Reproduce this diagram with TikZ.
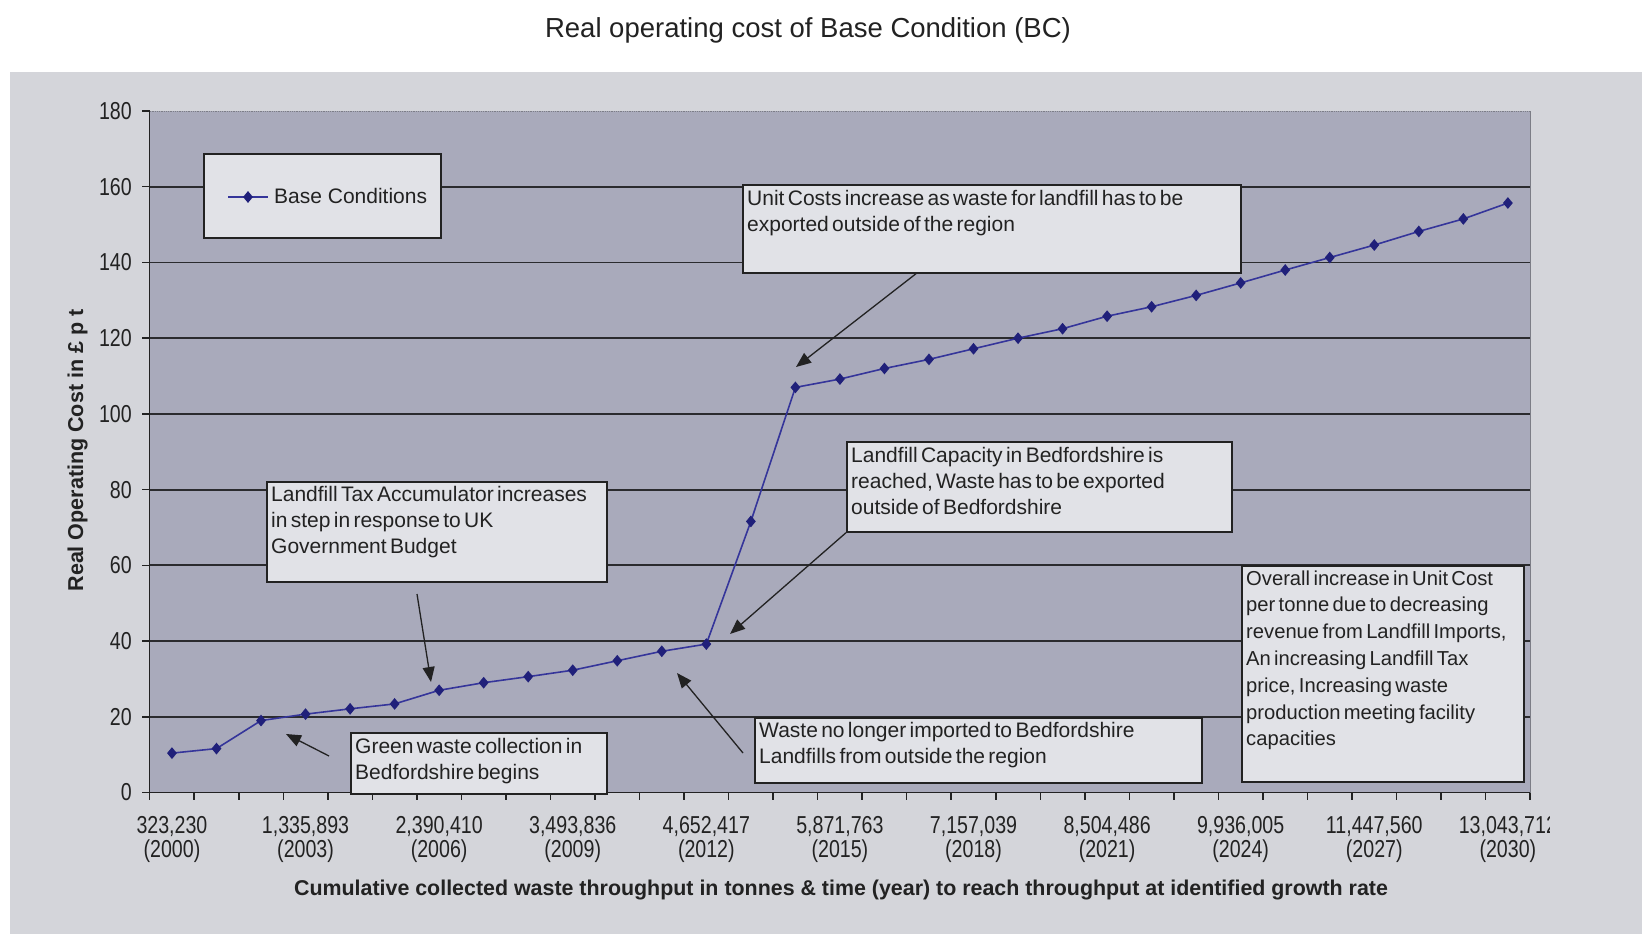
\documentclass[tikz,border=0pt]{standalone}
\usepackage{fontspec}
\setmainfont{Liberation Sans}
\newfontfamily\narrowfont[FakeStretch=0.8]{Liberation Sans}
\usetikzlibrary{arrows.meta,shapes.geometric}

\definecolor{pagegrey}{HTML}{D4D5DA}
\definecolor{plotfill}{HTML}{A9AABB}
\definecolor{boxfill}{HTML}{E1E2E7}
\definecolor{gridline}{HTML}{2B2B2E}
\definecolor{framegrey}{HTML}{7C7D86}
\definecolor{seriesblue}{HTML}{35359A}
\definecolor{markerblue}{HTML}{20207A}
\definecolor{inkgrey}{HTML}{222222}

\newcommand\ticksize{\narrowfont\fontsize{24.5}{28}\selectfont}
\newcommand\boxfont{\fontsize{21}{26.3}\selectfont}
\newcommand\widebox{\fontsize{20.2}{26.8}\selectfont}

\begin{document}
\begin{tikzpicture}[x=1pt,y=-1pt,
  gridrule/.style={draw=gridline, line width=1.8pt},
  axisrule/.style={draw=inkgrey, line width=1.5pt},
  seriesline/.style={draw=seriesblue, line width=1.6pt, line join=round},
  datamark/.style={diamond, fill=markerblue, inner sep=0pt, minimum width=10pt, minimum height=12pt},
  annbox/.style={draw=inkgrey, line width=1.7pt, fill=boxfill, anchor=north west, inner sep=0pt},
  anntext/.style={anchor=base west, inner sep=0pt, text width=520pt, align=left, text=inkgrey},
  callout/.style={draw=inkgrey, line width=1.3pt, -{Triangle[length=15pt,width=12pt]}},
  ticklabel/.style={inner sep=0pt, text=inkgrey, font=\ticksize},
]
\useasboundingbox (0,0) rectangle (1642,934);

% page and chart backgrounds
\fill[white] (0,0) rectangle (1642,934);
\fill[pagegrey] (10,72) rectangle (1642,934);
\fill[plotfill] (149.7,111) rectangle (1530,792.5);

% title
\node[anchor=base, inner sep=0pt, text=inkgrey, font=\fontsize{27.5}{33}\selectfont]
  (title) at (808,38) {Real operating cost of Base Condition (BC)};

% horizontal gridlines
\foreach \v in {20,40,...,160}
  \draw[gridrule] (149.7,{792.5-3.786*\v}) -- (1530,{792.5-3.786*\v});
\draw[framegrey, line width=0.8pt, densely dotted] (149.7,111) -- (1530,111);
\draw[framegrey, line width=0.8pt] (1530,111) -- (1530,792.5);

% axes and ticks
\draw[axisrule] (149.7,111) -- (149.7,792.5) -- (1530,792.5);
\foreach \v in {0,20,...,180} {
  \draw[axisrule] (142,{792.5-3.786*\v}) -- (149.7,{792.5-3.786*\v});
  \node[ticklabel, anchor=east] (yl\v) at (132,{792.5-3.786*\v}) {\v};
}
\foreach \k in {0,...,31}
  \draw[axisrule] ({149.7+\k*44.53},792.5) -- ({149.7+\k*44.53},799.5);

% category labels: cumulative tonnage and year
\foreach \i/\n/\yr in {{1/323,230/2000},{4/1,335,893/2003},{7/2,390,410/2006},
    {10/3,493,836/2009},{13/4,652,417/2012},{16/5,871,763/2015},
    {19/7,157,039/2018},{22/8,504,486/2021},{25/9,936,005/2024},
    {28/11,447,560/2027}} {
  \node[ticklabel, anchor=base] (xa\i) at ({149.7+(\i-0.5)*44.53},833) {\n};
  \node[ticklabel, anchor=base] (xb\i) at ({149.7+(\i-0.5)*44.53},857) {(\yr)};
}
\begin{scope}
  \clip (1440,805) rectangle (1549,845);
  \node[ticklabel, anchor=base] (xa31) at ({149.7+30.5*44.53},833) {13,043,712};
\end{scope}
\node[ticklabel, anchor=base] (xb31) at ({149.7+30.5*44.53},857) {(2030)};

% axis titles
\node[anchor=base, inner sep=0pt, text=inkgrey, font=\bfseries\fontsize{21.4}{26}\selectfont]
  (xtitle) at (841,895) {Cumulative collected waste throughput in tonnes \& time (year) to reach throughput at identified growth rate};
\node[rotate=90, anchor=base, inner sep=0pt, text=inkgrey, font=\bfseries\fontsize{21.5}{26}\selectfont]
  (ytitle) at (83,450.5) {Real Operating Cost in £ p t};

% data series
\foreach \i/\v in {1/10.4,2/11.6,3/19.0,4/20.7,5/22.1,6/23.4,7/27.0,8/29.0,
    9/30.6,10/32.3,11/34.8,12/37.3,13/39.2,14/71.6,15/107.0,16/109.2,
    17/112.0,18/114.4,19/117.2,20/120.0,21/122.5,22/125.8,23/128.3,
    24/131.3,25/134.6,26/138.0,27/141.3,28/144.6,29/148.2,30/151.5,31/155.7}
  \coordinate (p\i) at ({149.7+(\i-0.5)*44.53},{792.5-3.786*\v});
\draw[seriesline] (p1) \foreach \i in {2,...,31} { -- (p\i) };
\foreach \i in {1,...,31}
  \node[datamark] (m\i) at (p\i) {};

% legend
\node[annbox, minimum width=237pt, minimum height=84pt] (legend) at (203,153) {};
\coordinate (lgA) at (228,197);
\coordinate (lgB) at (268,197);
\draw[seriesline] (lgA) -- (lgB);
\node[datamark] (lgmark) at (248,197) {};
\node[anchor=base west, inner sep=0pt, text=inkgrey, font=\boxfont] (lgtext) at (274,203) {Base Conditions};

% annotation boxes
\node[annbox, minimum width=498pt, minimum height=88pt] (b1) at (742,184) {};
\node[anntext] (t1) at (747,205) {\boxfont Unit Costs increase as waste for landfill has to be\\exported outside of the region\par};

\node[annbox, minimum width=385pt, minimum height=90pt] (b2) at (846,441) {};
\node[anntext] (t2) at (851,462) {\boxfont Landfill Capacity in Bedfordshire is\\reached, Waste has to be exported\\outside of Bedfordshire\par};

\node[annbox, minimum width=447pt, minimum height=65pt] (b3) at (754,717) {};
\node[anntext] (t3) at (759,737) {\boxfont Waste no longer imported to Bedfordshire\\Landfills from outside the region\par};

\node[annbox, minimum width=340pt, minimum height=100pt] (b4) at (266,481) {};
\node[anntext] (t4) at (271,501) {\boxfont Landfill Tax Accumulator increases\\in step in response to UK\\Government Budget\par};

\node[annbox, minimum width=256pt, minimum height=61pt] (b5) at (350,732) {};
\node[anntext] (t5) at (355,753) {\boxfont Green waste collection in\\Bedfordshire begins\par};

\node[annbox, minimum width=282pt, minimum height=216pt] (b6) at (1241,565) {};
\node[anntext] (t6) at (1246,585) {\widebox Overall increase in Unit Cost\\per tonne due to decreasing\\revenue from Landfill Imports,\\An increasing Landfill Tax\\price, Increasing waste\\production meeting facility\\capacities\par};

% callout arrows
\coordinate (tip1) at (796,367);
\draw[callout] ([xshift=174pt]b1.south west) -- (tip1);
\coordinate (tip2) at (730,634);
\draw[callout] (b2.south west) -- (tip2);
\coordinate (tail3) at (743,753);
\coordinate (tip3) at (677,673);
\draw[callout] (tail3) -- (tip3);
\coordinate (tail4) at (417,594);
\coordinate (tip4) at (431,682);
\draw[callout] (tail4) -- (tip4);
\coordinate (tail5) at (329,756);
\coordinate (tip5) at (286,734);
\draw[callout] (tail5) -- (tip5);
\end{tikzpicture}
\end{document}
